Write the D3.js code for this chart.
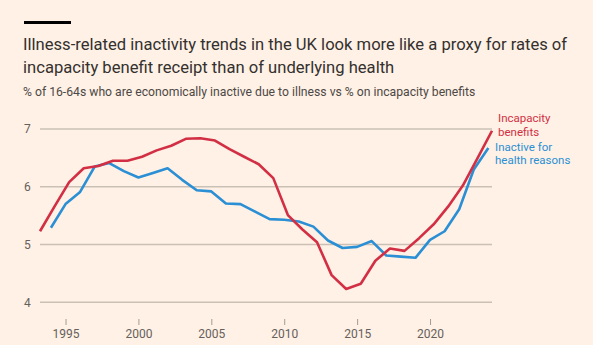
<!DOCTYPE html>
<html>
<head>
<meta charset="utf-8">
<script src="https://cdn.jsdelivr.net/npm/d3@7"></script>
<style>
  html, body { margin: 0; padding: 0; background: #fff1e5; }
  svg { display: block; font-family: Roboto, "Noto Sans", sans-serif; }
</style>
</head>
<body>
<div id="chart"></div>
<script>
const YEARS = d3.range(1993, 2025);

// % of 16-64s on incapacity benefits (financial years, 1993/94 .. 2024/25)
const BENEFITS = [
    5.23, 5.66, 6.08, 6.32, 6.36, 6.45, 6.45, 6.52, 6.63, 6.71,
    6.83, 6.84, 6.80, 6.65, 6.52, 6.39, 6.15, 5.51, 5.26, 5.04,
    4.47, 4.23, 4.32, 4.72, 4.93, 4.89, 5.11, 5.35, 5.66, 6.02,
    6.49, 6.97
];

// % of 16-64s economically inactive due to illness (1994 .. 2024)
const INACTIVE = [
    null, 5.29, 5.70, 5.91, 6.35, 6.41, 6.27, 6.16, 6.24, 6.32,
    6.12, 5.94, 5.92, 5.71, 5.70, 5.57, 5.44, 5.43, 5.40, 5.31,
    5.07, 4.94, 4.96, 5.06, 4.81, 4.79, 4.77, 5.08, 5.23, 5.61,
    6.30, 6.67
];

const Y_TICKS = [4, 5, 6, 7];
const X_TICKS = [1995, 2000, 2005, 2010, 2015, 2020];

const TITLE = [
    "Illness-related inactivity trends in the UK look more like a proxy for rates of",
    "incapacity benefit receipt than of underlying health"
];
const SUBTITLE = "% of 16-64s who are economically inactive due to illness vs % on incapacity benefits";

const RED = "#d22f44";
const BLUE = "#2a8fd4";

const WIDTH = 593;
const HEIGHT = 345;
const FY_SHIFT = 0.25; // benefit years run from April

const svg = d3.select("#chart")
    .append("svg")
        .attr("width", WIDTH)
        .attr("height", HEIGHT);

svg.append("rect")
    .attr("width", WIDTH)
    .attr("height", HEIGHT)
    .attr("fill", "#fff1e5");

// HEADER
svg.append("rect")
    .attr("x", 24).attr("y", 21)
    .attr("width", 47).attr("height", 3)
    .attr("fill", "#000");

svg.selectAll(".title")
    .data(TITLE)
    .enter().append("text")
        .attr("class", "title")
        .attr("x", 23)
        .attr("y", (d, i) => 50 + i * 23)
        .attr("fill", "#33302e")
        .attr("font-size", 16.6)
        .text(d => d);

svg.append("text")
    .attr("x", 23)
    .attr("y", 96)
    .attr("fill", "#4d4845")
    .attr("font-size", 12.2)
    .text(SUBTITLE);

// SCALES
const x = d3.scaleLinear()
    .domain([1993.25, 2024.25])
    .range([40, 492]);

const y = d3.scaleLinear()
    .domain([4, 7])
    .range([302.3, 129]);

// GRID
svg.append("g")
    .selectAll("line")
    .data(Y_TICKS)
    .enter().append("line")
        .attr("x1", 40).attr("x2", 492)
        .attr("y1", d => y(d)).attr("y2", d => y(d))
        .attr("stroke", "#cbc0b5")
        .attr("stroke-width", 1.4);

svg.append("g")
    .selectAll("text")
    .data(Y_TICKS)
    .enter().append("text")
        .attr("x", 24)
        .attr("y", d => y(d))
        .attr("dy", "0.35em")
        .attr("fill", "#66605c")
        .attr("font-size", 12)
        .text(d => d);

// X AXIS
const xAxis = d3.axisBottom(x)
    .tickValues(X_TICKS)
    .tickFormat(d3.format("d"))
    .tickSize(6)
    .tickPadding(4);

const gx = svg.append("g")
    .attr("transform", "translate(0, 319)")
    .call(xAxis);
gx.select(".domain").remove();
gx.selectAll(".tick line").attr("stroke", "#a39b94");
gx.selectAll(".tick text")
    .attr("fill", "#66605c")
    .attr("font-size", 12)
    .attr("font-family", "Roboto, sans-serif");

// LINES
const line = d3.line()
    .defined(d => d.v != null)
    .x(d => x(d.year))
    .y(d => y(d.v));

svg.append("path")
    .datum(YEARS.map((year, i) => ({year, v: INACTIVE[i]})))
    .attr("d", line)
    .attr("fill", "none")
    .attr("stroke", BLUE)
    .attr("stroke-width", 2.6)
    .attr("stroke-linejoin", "round");

svg.append("path")
    .datum(YEARS.map((year, i) => ({year: year + FY_SHIFT, v: BENEFITS[i]})))
    .attr("d", line)
    .attr("fill", "none")
    .attr("stroke", RED)
    .attr("stroke-width", 2.6)
    .attr("stroke-linejoin", "round");

// LABELS
const labels = [
    {lines: ["Incapacity", "benefits"], x: 498, y: 122, color: RED},
    {lines: ["Inactive for", "health reasons"], x: 495, y: 150.5, color: BLUE}
];

labels.forEach(l => {
    l.lines.forEach((t, i) => {
        svg.append("text")
            .attr("x", l.x)
            .attr("y", l.y + i * 13.6)
            .attr("fill", l.color)
            .attr("font-size", 11.5)
            .text(t);
    });
});
</script>
</body>
</html>
